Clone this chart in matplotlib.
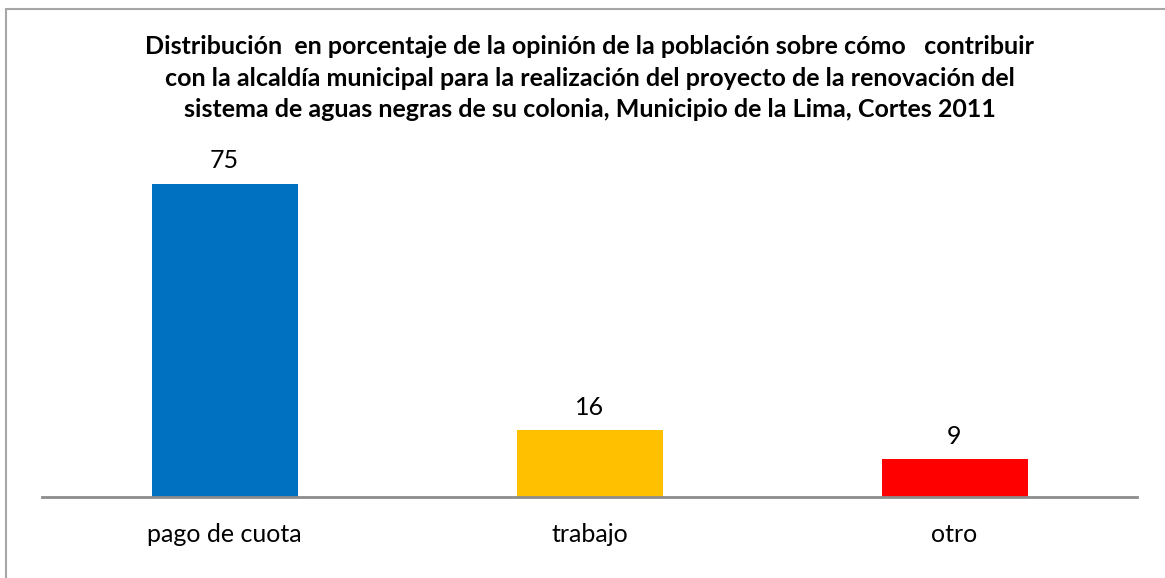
import matplotlib.pyplot as plt
from matplotlib.patches import Rectangle

categorias = ['pago de cuota', 'trabajo', 'otro']
porcentajes = [75, 16, 9]
colores = ['#0070C0', '#FFC000', '#FF0000']

titulo = ("Distribución  en porcentaje de la opinión de la población sobre cómo   contribuir\n"
          "con la alcaldía municipal para la realización del proyecto de la renovación del\n"
          "sistema de aguas negras de su colonia, Municipio de la Lima, Cortes 2011")

W, H = 1165, 578
fig = plt.figure(figsize=(W / 100, H / 100), dpi=100)
fig.patch.set_facecolor('white')

# marco gris del grafico
fig.patches.append(Rectangle((6 / W, -0.05), 1.2, 1 - 9 / H + 0.05, transform=fig.transFigure,
                             fill=False, edgecolor='#a6a6a6', linewidth=1.5))

ax = fig.add_axes([42 / W, 1 - 497 / H, (1137 - 42) / W, (497 - 150) / H])
x = range(len(categorias))
barras = ax.bar(x, porcentajes, width=0.4, color=colores, zorder=2)
ax.set_xlim(-0.5, 2.5)
ax.set_ylim(0, 347 / 4.18)

for b, v in zip(barras, porcentajes):
    ax.annotate(str(v), (b.get_x() + b.get_width() / 2, v), xytext=(0, 8),
                textcoords='offset points', ha='center', va='bottom',
                fontsize=18, family='Lato', color='black')

ax.set_xticks(list(x))
ax.set_xticklabels(categorias, fontsize=18, family='Lato')
ax.tick_params(axis='x', length=0, pad=19)
ax.set_yticks([])
for s in ['top', 'right', 'left']:
    ax.spines[s].set_visible(False)
ax.spines['bottom'].set_color('#8c8c8c')
ax.spines['bottom'].set_linewidth(2)

fig.text(589.5 / W, 1 - 35 / H, titulo, ha='center', va='top', fontsize=18,
         fontweight='bold', family='Lato', linespacing=1.46)

fig.savefig('out.png', dpi=100)
